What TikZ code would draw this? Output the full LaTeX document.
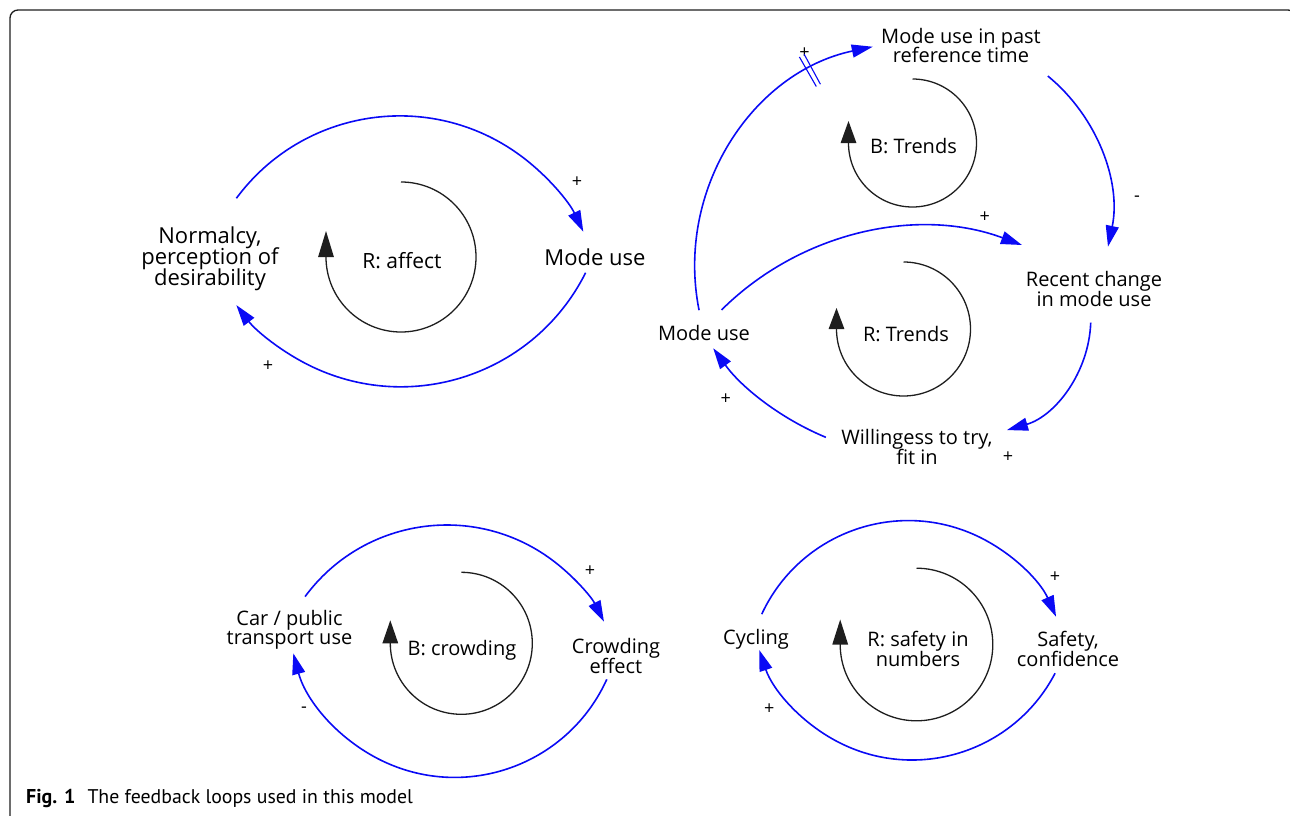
\documentclass[tikz,border=0pt]{standalone}
\usepackage{fontspec}
\setmainfont{Open Sans}
\newfontfamily\capfont{PT Sans}
\usetikzlibrary{arrows.meta}
\definecolor{linkblue}{RGB}{10,10,245}
\definecolor{loopblack}{RGB}{30,30,30}
\newcommand\tightlines{\lineskiplimit=-30pt\relax}
\begin{document}
\begin{tikzpicture}[x=1pt,y=-1pt,
  link/.style={draw=linkblue, line width=1.6pt, -{Triangle[length=21pt,width=13pt]}},
  loopsym/.style={draw=loopblack, line width=1.3pt},
  loophead/.style={-{Triangle[length=#1,width=15.5pt]}},
  lblA/.style={align=center, inner sep=0pt, font=\fontsize{22}{21}\selectfont\tightlines},
  lblB/.style={align=center, inner sep=0pt, font=\fontsize{20}{19.5}\selectfont\tightlines},
  pol/.style={inner sep=0pt, font=\fontsize{18}{18}\selectfont},
  delaymark/.style={draw=linkblue, line width=1.1pt},
]
\useasboundingbox (0,0) rectangle (1290,816);
% frame
\draw[line width=1.3pt, draw=loopblack, rounded corners=8pt] (10,840) -- (10,10) -- (1296,10) -- (1296,840);

% ---------------- Loop 1 ----------------
\node[lblA] (norm) at (210,259) {Normalcy,\\perception of\\desirability};
\node[lblA] (mode1) at (595,257.5) {Mode use};
\node[inner sep=0pt, font=\fontsize{21}{21}\selectfont] (raff) at (402,261) {R: affect};
\node[pol] (p1a) at (577,182) {+};
\node[pol] (p1b) at (268,366) {+};
\coordinate (c1t) at (399.8,319.2);
\coordinate (c1b) at (400.9,180.2);
\path (c1t) ++(216.5:203.3) coordinate (s1t);
\path (c1b) ++(26.6:206.6) coordinate (s1b);
\draw[link] (s1t) arc[start angle=216.5, end angle=334.5, radius=203.3];
\draw[link] (s1b) arc[start angle=26.6, end angle=142.8, radius=206.6];
\coordinate (k1) at (401,257);
\path (k1) ++(-90:75) coordinate (k1s);
\draw[loopsym, loophead=26pt] (k1s) arc[start angle=-90, end angle=180, radius=75] -- ++(0,-26);

% ---------------- Loop 2 ----------------
\node[lblB] (past) at (961,45.5) {Mode use in past\\reference time};
\node[lblB] (mode2) at (704,333) {Mode use};
\node[lblB] (recent) at (1094,289) {Recent change\\in mode use};
\node[lblB] (will) at (917,447) {Willingess to try,\\fit in};
\node[lblB] (btr) at (913.5,146) {B: Trends};
\node[lblB] (rtr) at (906,334) {R: Trends};
\node[pol] (p2a) at (804.5,53.5) {+};
\node[pol] (p2b) at (1137,199) {-};
\node[pol] (p2c) at (984.7,217.3) {+};
\node[pol] (p2d) at (1008,457) {+};
\node[pol] (p2e) at (725.7,399.3) {+};
\coordinate (c2a) at (919,266.2);
\coordinate (c2b) at (937.4,210.9);
\coordinate (c2c) at (922.5,512.4);
\coordinate (c2d) at (974.5,318.4);
\coordinate (c2e) at (926.7,194);
\path (c2a) ++(168.7:224.3) coordinate (s2a);
\path (c2b) ++(-50.7:174.3) coordinate (s2b);
\path (c2c) ++(225.2:285.3) coordinate (s2c);
\path (c2d) ++(2.1:116.3) coordinate (s2d);
\path (c2e) ++(112.5:263.4) coordinate (s2e);
\draw[link] (s2a) arc[start angle=168.7, end angle=258.1, radius=224.3];
\draw[link] (s2b) arc[start angle=-50.7, end angle=11.85, radius=174.3];
\draw[link] (s2c) arc[start angle=225.2, end angle=290.4, radius=285.3];
\draw[link] (s2d) arc[start angle=2.1, end angle=73.8, radius=116.3];
\draw[link] (s2e) arc[start angle=112.5, end angle=144.15, radius=263.4];
% delay mark
\path (c2a) ++(240.25:207) coordinate (dm1a) (c2a) ++(240.25:241) coordinate (dm1b);
\path (c2a) ++(241.55:207) coordinate (dm2a) (c2a) ++(241.55:241) coordinate (dm2b);
\draw[delaymark] (dm1a) -- (dm1b);
\draw[delaymark] (dm2a) -- (dm2b);
\coordinate (k2a) at (912.5,143);
\path (k2a) ++(-90:64) coordinate (k2as);
\draw[loopsym, loophead=22pt] (k2as) arc[start angle=-90, end angle=180, radius=64] -- ++(0,-22);
\coordinate (k2b) at (903.5,329);
\path (k2b) ++(-90:67) coordinate (k2bs);
\draw[loopsym, loophead=21pt] (k2bs) arc[start angle=-90, end angle=180, radius=67] -- ++(0,-21);

% ---------------- Loop 3 ----------------
\node[lblB] (car) at (289.5,630) {Car / public\\transport use};
\node[lblB] (crowd) at (616,656) {Crowding\\effect};
\node[lblB] (bcr) at (462,650) {B: crowding};
\node[pol] (p3a) at (590,571) {+};
\node[pol] (p3b) at (304,710) {-};
\coordinate (c3t) at (446.8,701.1);
\coordinate (c3b) at (454.7,610.4);
\path (c3t) ++(216.4:176.1) coordinate (s3t);
\path (c3b) ++(24.4:167) coordinate (s3b);
\draw[link] (s3t) arc[start angle=216.4, end angle=333.2, radius=176.1];
\draw[link] (s3b) arc[start angle=24.4, end angle=165.1, radius=167];
\coordinate (k3) at (461.3,643.3);
\path (k3) ++(-90:71) coordinate (k3s);
\draw[loopsym, loophead=23pt] (k3s) arc[start angle=-90, end angle=180, radius=71] -- ++(0,-23);

% ---------------- Loop 4 ----------------
\node[lblB] (cyc) at (756,639) {Cycling};
\node[lblB] (safe) at (1068,649) {Safety,\\confidence};
\node[lblB] (rsaf) at (918,649) {R: safety in\\numbers};
\node[pol] (p4a) at (1055,577) {+};
\node[pol] (p4b) at (769.3,709.3) {+};
\coordinate (c4t) at (908.3,682.2);
\coordinate (c4b) at (912.1,598.8);
\path (c4t) ++(204.9:161.6) coordinate (s4t);
\path (c4b) ++(27.5:161.2) coordinate (s4b);
\draw[link] (s4t) arc[start angle=204.9, end angle=336.1, radius=161.6];
\draw[link] (s4b) arc[start angle=27.5, end angle=161.5, radius=161.2];
\coordinate (k4) at (916.5,644.5);
\path (k4) ++(-90:76.3) coordinate (k4s);
\draw[loopsym, loophead=25pt] (k4s) arc[start angle=-90, end angle=180, radius=76.3] -- ++(0,-25);

% ---------------- caption ----------------
\node[anchor=base west, inner sep=0pt, font=\capfont\bfseries\fontsize{20}{20}\selectfont] (figno) at (26,803) {Fig. 1};
\node[anchor=base west, inner sep=0pt, font=\capfont\fontsize{19.8}{20}\selectfont] (captxt) at (87.3,803) {The feedback loops used in this model};
\end{tikzpicture}
\end{document}
